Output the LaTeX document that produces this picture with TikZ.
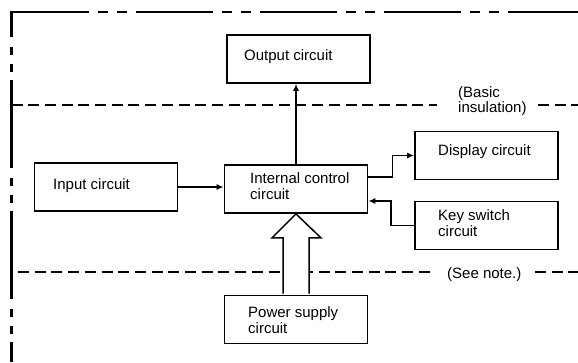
\documentclass[tikz,border=0pt]{standalone}
\usepackage{fontspec}
\setmainfont{Liberation Sans}
\usetikzlibrary{arrows.meta,calc}
\newcommand{\twolines}[2]{\begin{tabular}[t]{@{}l@{}}#1\\#2\end{tabular}}
\begin{document}
\begin{tikzpicture}[x=1pt,y=-1pt,
  blk/.style={draw,line width=1.8pt,inner sep=0pt,minimum width=143pt,minimum height=48pt},
  lbl/.style={anchor=base west,inner sep=0pt,font=\fontsize{15}{16.5}\selectfont},
  conn/.style={line width=1.3pt,-{Latex[length=7pt,width=6pt]}},
  sepline/.style={line width=1.5pt,dash pattern=on 11pt off 5.7pt},
  outerline/.style={line width=2.3pt},
  hollow/.style={line width=1.5pt,fill=white,line join=miter}]
\useasboundingbox (0,0) rectangle (578,362);

% outer dash-dot boundary
\draw[outerline,dash pattern=on 88pt off 10pt on 8pt off 9pt on 8pt off 8pt,dash phase=63pt] (11.5,12) -- (11.5,362);
\draw[outerline,dash pattern=on 77pt off 9pt on 10pt off 9pt on 10pt off 9pt] (11.5,12) -- (578,12);
\draw[outerline,line join=miter] (11.5,22) -- (11.5,12) -- (22,12);

% boxes
\node[blk] (output)   at (298.5,59)  {};
\node[blk] (internal) at (296,189)   {};
\node[blk] (power)    at (296,319.5) {};
\node[blk] (input)    at (106,187)   {};
\node[blk] (display)  at (486.5,155.5) {};
\node[blk] (keysw)    at (486.5,225.5) {};

% labels
\node[lbl] (toutput)   at (244,60)  {Output circuit};
\node[lbl] (tinput)    at (53,189)  {Input circuit};
\node[lbl] (tinternal) at (250,183) {\twolines{Internal control}{circuit}};
\node[lbl] (tdisplay)  at (438,155) {Display circuit};
\node[lbl] (tkeysw)    at (438,220) {\twolines{Key switch}{circuit}};
\node[lbl] (tpower)    at (248,317) {\twolines{Power supply}{circuit}};
\node[lbl] (tbasic)    at (458,97)  {\begin{tabular}[t]{@{}l@{}}(Basic\\[-1.5pt]insulation)\end{tabular}};
\node[lbl] (tnote)     at (447,278) {(See note.)};

% insulation lines
\draw[sepline] (11.5,105) -- (437,105);
\draw[sepline] (538,105) -- (578,105);
\draw[sepline] (18,272) -- (430,272);
\draw[sepline] (535,272) -- (578,272);

% connectors
\draw[conn] (internal.north) -- (internal.north |- output.south);
\draw[conn] (input.east) -- (input.east -| internal.west);
\draw[conn] ($(internal.east)+(0,-12)$) -- ++(24,0) |- (display.west);
\draw[conn] (keysw.west) -- ++(-23,0) |- ($(internal.east)+(0,12)$);

% hollow power arrow
\draw[hollow] ($(power.north)+(-13,-1)$) -- ($(internal.south)+(-13,24)$)
  -- ($(internal.south)+(-24,24)$) -- (internal.south)
  -- ($(internal.south)+(25,24)$) -- ($(internal.south)+(13,24)$)
  -- ($(power.north)+(13,-1)$);
\end{tikzpicture}
\end{document}
